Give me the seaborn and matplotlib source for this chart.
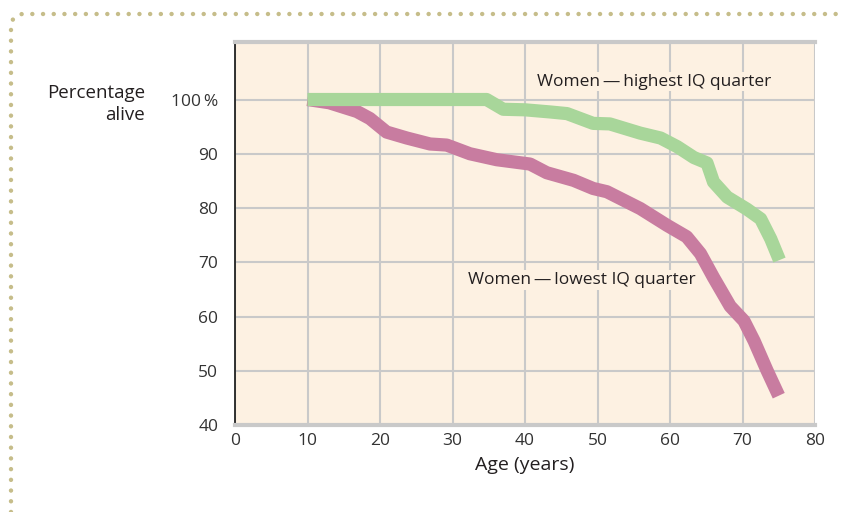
import numpy as np
import pandas as pd
import matplotlib
matplotlib.use('Agg')
import matplotlib.pyplot as plt
from matplotlib.lines import Line2D
import seaborn as sns

# Datos (edad en años, porcentaje vivo)
edad_alto = [10, 20, 30, 34.7, 37, 40, 43.5, 45.8, 49.4, 51.7, 55.9, 58.7,
             61, 63.3, 65.1, 66, 67.9, 70.6, 72.5, 73.9, 75.1]
vivo_alto = [100, 100, 100, 100, 98.2, 98.1, 97.7, 97.4, 95.6, 95.5, 93.8, 92.9,
             91.3, 89.3, 88.3, 84.8, 82.0, 79.8, 78.0, 74.3, 70.4]

edad_bajo = [10, 13, 16.8, 18.6, 20.9, 23.7, 26.9, 29.2, 32.4, 36.1, 40.7, 43,
             46.7, 49.4, 51.3, 55.9, 59.6, 62.3, 64.2, 66, 68.3, 70.2, 71.6,
             73.4, 75]
vivo_bajo = [100, 99.4, 97.8, 96.5, 94.0, 92.9, 91.8, 91.6, 90.0, 88.9, 88.1, 86.5,
             85.1, 83.6, 83.0, 79.9, 76.8, 74.7, 71.6, 67.2, 61.9, 59.2, 55.5,
             50.0, 45.4]

etiqueta_alto = 'Women\u2009\u2014\u2009highest IQ quarter'
etiqueta_bajo = 'Women\u2009\u2014\u2009lowest IQ quarter'

xticks = [0, 10, 20, 30, 40, 50, 60, 70, 80]
yticks = [40, 50, 60, 70, 80, 90, 100]
ytick_labels = ['40', '50', '60', '70', '80', '90', '100\u2009%']

COLOR_ALTO = '#a8d69a'
COLOR_BAJO = '#c87ca0'
FONDO = '#fdf1e2'
REJILLA = '#c9c9c9'
TEXTO = '#231f20'

sns.set_style('white')
plt.rcParams['font.family'] = ['Open Sans', 'DejaVu Sans']

fig = plt.figure(figsize=(8.43, 5.12), dpi=100)
ax = fig.add_axes([235 / 843, 1 - 425 / 512, 580 / 843, 383 / 512])
ax.set_facecolor(FONDO)

df_alto = pd.DataFrame({'edad': edad_alto, 'vivo': vivo_alto})
df_bajo = pd.DataFrame({'edad': edad_bajo, 'vivo': vivo_bajo})

sns.lineplot(data=df_bajo, x='edad', y='vivo', ax=ax, color=COLOR_BAJO,
             linewidth=9.5, sort=False, solid_capstyle='butt', solid_joinstyle='round', zorder=3)
sns.lineplot(data=df_alto, x='edad', y='vivo', ax=ax, color=COLOR_ALTO,
             linewidth=9.5, sort=False, solid_capstyle='butt', solid_joinstyle='round', zorder=4)

ax.set_xlim(0, 80)
ax.set_ylim(40, 110.6)
ax.set_xticks(xticks)
ax.set_yticks(yticks)
ax.set_yticklabels(ytick_labels)
ax.grid(True, color=REJILLA, linewidth=1.5, zorder=1)
ax.set_axisbelow(True)
ax.tick_params(axis='both', length=0, labelsize=12.5, colors='#333333')
ax.tick_params(axis='y', pad=12)
ax.tick_params(axis='x', pad=6)

ax.spines['right'].set_visible(False)
ax.spines['left'].set_color('#222222')
ax.spines['left'].set_linewidth(1.3)
ax.spines['top'].set_color(REJILLA)
ax.spines['top'].set_linewidth(3)
ax.spines['bottom'].set_color(REJILLA)
ax.spines['bottom'].set_linewidth(3)

ax.set_xlabel('Age (years)', fontsize=14, color=TEXTO, labelpad=5)
ax.set_ylabel('')
fig.text(145 / 843, 1 - 104 / 512, 'Percentage\nalive', ha='right', va='center',
         fontsize=13.5, color=TEXTO, linespacing=1.25)

caja = dict(boxstyle='square,pad=0.1', facecolor=FONDO, edgecolor='none')
ax.text(41.7, 103.3, etiqueta_alto, fontsize=12.5, color=TEXTO,
        ha='left', va='center', bbox=caja, zorder=5)
ax.text(32.1, 66.7, etiqueta_bajo, fontsize=12.5, color=TEXTO,
        ha='left', va='center', bbox=caja, zorder=5)

# Borde punteado con esquina redondeada (coordenadas en píxeles)
r = 12
ang = np.linspace(np.pi, np.pi / 2, 10)
cx, cy = 11 + r, 14 + r
xs = [11] + list(cx + r * np.cos(ang)) + [843]
ys = [512] + list(cy - r * np.sin(ang)) + [14]
xs = np.array(xs) / 843
ys = 1 - np.array(ys) / 512
borde = Line2D(xs, ys, transform=fig.transFigure, color='#c6bd8a', linewidth=3.2,
               linestyle=(0, (0.01, 2.4)), dash_capstyle='round', solid_capstyle='round')
fig.add_artist(borde)

plt.savefig('out.png', dpi=100)
